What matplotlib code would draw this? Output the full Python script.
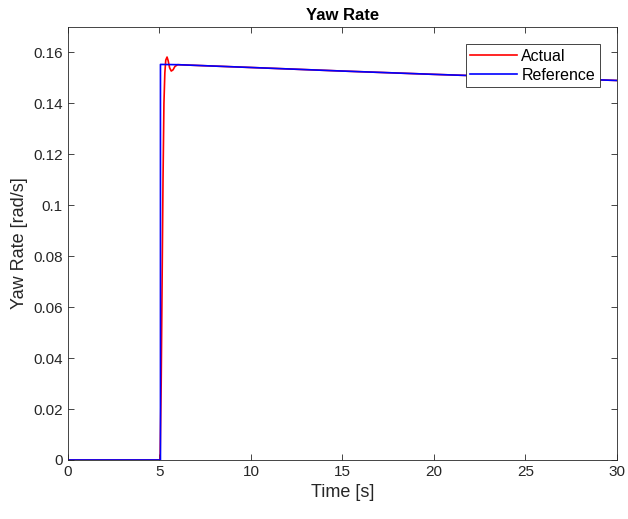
import numpy as np
import matplotlib.pyplot as plt

plt.rcParams['font.family'] = ['Liberation Sans', 'DejaVu Sans']

# reference signal
t_ref = [0, 5.06, 5.06, 6, 10, 15, 20, 25, 30]
yaw_ref = [0, 0, 0.1553, 0.1552, 0.1541, 0.1527, 0.1514, 0.1502, 0.1490]

# actual vehicle response
t_act = [0, 5.04, 5.1, 5.15, 5.2, 5.25, 5.3, 5.35, 5.42, 5.48, 5.56, 5.65, 5.75, 5.85, 6.0,
         10, 15, 20, 25, 30]
yaw_act = [0, 0, 0.03, 0.07, 0.11, 0.14, 0.152, 0.157, 0.1582, 0.1568, 0.1540, 0.1527,
           0.1532, 0.1545, 0.1552, 0.1541, 0.1527, 0.1514, 0.1502, 0.1490]

fig = plt.figure(figsize=(6.28, 5.19), dpi=100)
ax = fig.add_axes([0.108, 0.1137, 0.8745, 0.8343])

ax.plot(t_act, yaw_act, color='red', lw=1.2, label='Actual')
ax.plot(t_ref, yaw_ref, color='blue', lw=1.2, label='Reference')

ax.set_xlim(0, 30)
ax.set_ylim(0, 0.17)
ax.set_xticks([0, 5, 10, 15, 20, 25, 30])
ax.set_yticks(np.arange(0, 0.161, 0.02))
ax.set_yticklabels(['0', '0.02', '0.04', '0.06', '0.08', '0.1', '0.12', '0.14', '0.16'])

ax.tick_params(direction='in', top=True, right=True, labelsize=11, colors='#262626',
               length=4, width=0.6)
for s in ax.spines.values():
    s.set_color('#262626')
    s.set_linewidth(0.6)

ax.set_xlabel('Time [s]', fontsize=13, color='#262626')
ax.set_ylabel('Yaw Rate [rad/s]', fontsize=13, color='#262626')
ax.set_title('Yaw Rate', fontsize=12, fontweight='bold', color='black', pad=5)

leg = ax.legend(loc='upper right', bbox_to_anchor=(0.969, 0.961), fontsize=11.5,
                fancybox=False, edgecolor='#262626', framealpha=1,
                handlelength=2.9, borderpad=0.3, labelspacing=0.25, handletextpad=0.3,
                borderaxespad=0)
leg.get_frame().set_linewidth(0.6)

fig.savefig('out.png', dpi=100)
